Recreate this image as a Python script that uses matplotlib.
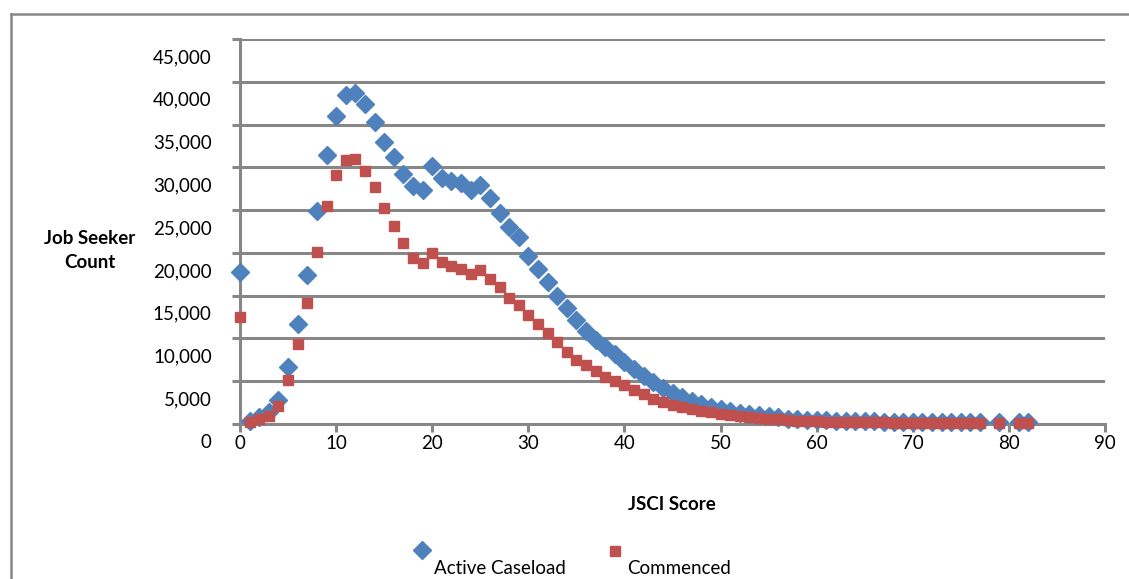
import numpy as np
import matplotlib.pyplot as plt
import matplotlib.transforms as mtransforms
from matplotlib.lines import Line2D
from matplotlib.ticker import FuncFormatter

plt.rcParams['font.family'] = ['Lato', 'DejaVu Sans']

# JSCI score (x) - 0..77, then 79, 81, 82
scores = list(range(0, 78)) + [79, 81, 82]

# Active Caseload (blue diamonds)
active = [17800, 400, 850, 1400, 2800, 6650, 11700, 17400, 24900, 31450,
          36000, 38450, 38650, 37400, 35350, 33000, 31200, 29200, 27800, 27350,
          30100, 28700, 28400, 28150, 27350, 27900, 26400, 24700, 23050, 21800,
          19650, 18100, 16600, 14950, 13550, 12150, 10850, 9800, 9000, 8200,
          7250, 6450, 5600, 4900, 4200, 3600, 3150, 2700, 2350, 2000,
          1750, 1500, 1300, 1150, 1000, 880, 760, 640, 580, 520,
          470, 420, 390, 360, 340, 320, 300, 290, 280, 270,
          260, 250, 250, 240, 240, 230, 230, 220,
          220, 210, 210]

# Commenced (red squares)
commenced = [12550, 270, 550, 935, 2100, 5200, 9350, 14200, 20150, 25500,
             29100, 30850, 30950, 29600, 27650, 25300, 23200, 21100, 19450, 18800,
             20000, 18950, 18450, 18100, 17550, 18000, 16900, 16050, 14700, 13900,
             12750, 11650, 10600, 9600, 8450, 7500, 6900, 6250, 5550, 5050,
             4550, 3950, 3450, 2900, 2550, 2200, 2000, 1750, 1500, 1350,
             1170, 1050, 930, 820, 700, 620, 550, 470, 400, 350,
             320, 280, 250, 230, 210, 200, 190, 180, 170, 160,
             160, 150, 150, 150, 140, 140, 140, 140,
             140, 130, 130]

x_ticks = np.arange(0, 91, 10)
y_ticks = np.arange(0, 45001, 5000)

blue = '#4F81BD'
red = '#C0504D'
grey = '#878787'

W, H = 1129, 579
fig = plt.figure(figsize=(W / 100, H / 100), dpi=100)
ax = fig.add_axes([240 / W, 1 - 424 / H, 865 / W, 385 / H])

ax.plot(scores, active, linestyle='none', marker='D', ms=9.2,
        color=blue, mec=blue, clip_on=False, zorder=3)
ax.plot(scores, commenced, linestyle='none', marker='s', ms=7.8,
        color=red, mec=red, clip_on=False, zorder=4)

ax.set_xlim(0, 90)
ax.set_ylim(0, 45000)
ax.set_xticks(x_ticks)
ax.set_yticks(y_ticks)
ax.yaxis.set_major_formatter(FuncFormatter(lambda v, p: f'{int(v):,}'))

ax.grid(axis='y', color=grey, linewidth=2.2, zorder=1)
ax.set_axisbelow(True)
for s in ['top', 'right']:
    ax.spines[s].set_visible(False)
for s in ['left', 'bottom']:
    ax.spines[s].set_color(grey)
    ax.spines[s].set_linewidth(2.2)

ax.tick_params(axis='both', colors=grey, width=2.2, length=5.8, labelcolor='black',
               labelsize=13.5)
ax.tick_params(axis='y', pad=14.5)
ax.tick_params(axis='x', pad=2)

# Excel drew the y labels a little below their gridlines
shift = mtransforms.ScaledTranslation(0, -0.17, fig.dpi_scale_trans)
for lab in ax.get_yticklabels():
    lab.set_transform(lab.get_transform() + shift)

fig.text(672 / W, 1 - 505 / H, 'JSCI Score', ha='center', va='center',
         fontsize=13.5, fontweight='bold')
fig.text(90 / W, 1 - 250 / H, 'Job Seeker\nCount', ha='center', va='center',
         fontsize=13.5, fontweight='bold', linespacing=1.5)

# legend, Excel style: marker above and left of the text
fig.add_artist(Line2D([422 / W], [1 - 550 / H], transform=fig.transFigure,
                      marker='D', ms=9.2, color=blue, linestyle='none'))
fig.add_artist(Line2D([615 / W], [1 - 551 / H], transform=fig.transFigure,
                      marker='s', ms=7.8, color=red, linestyle='none'))
fig.text(434 / W, 1 - 569 / H, 'Active Caseload', ha='left', va='center', fontsize=13.5)
fig.text(627 / W, 1 - 569 / H, 'Commenced', ha='left', va='center', fontsize=13.5)

# chart frame (runs off the right and bottom of the picture)
fig.add_artist(Line2D([11 / W, 11 / W], [1 - 14 / H, -0.1], transform=fig.transFigure,
                      color=grey, linewidth=1.8))
fig.add_artist(Line2D([11 / W, 1.1], [1 - 14 / H, 1 - 14 / H], transform=fig.transFigure,
                      color=grey, linewidth=1.8))

fig.savefig('out.png', dpi=100)
